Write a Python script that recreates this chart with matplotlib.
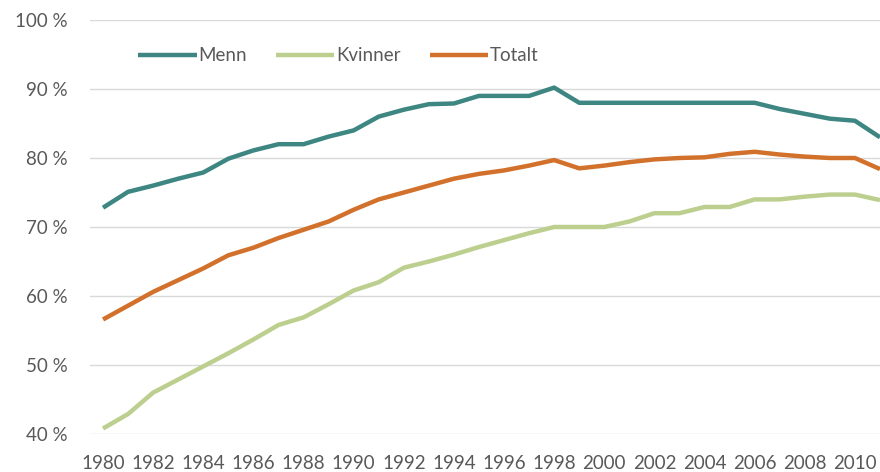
import numpy as np
import matplotlib
matplotlib.use("Agg")
import matplotlib.pyplot as plt
from matplotlib.ticker import FuncFormatter

# data
years = list(range(1980, 2012))
menn = [72.8, 75.1, 76.0, 77.0, 77.9, 79.9, 81.1, 82.0, 82.0, 83.1, 84.0, 86.0, 87.0, 87.8, 87.9, 89.0,
        89.0, 89.0, 90.2, 88.0, 88.0, 88.0, 88.0, 88.0, 88.0, 88.0, 88.0, 87.1, 86.4, 85.7, 85.4, 83.0]
kvinner = [40.8, 42.9, 46.0, 47.9, 49.8, 51.7, 53.7, 55.8, 56.9, 58.8, 60.8, 62.0, 64.1, 65.0, 66.0, 67.1,
           68.1, 69.1, 70.0, 70.0, 70.0, 70.8, 72.0, 72.0, 72.9, 72.9, 74.0, 74.0, 74.4, 74.7, 74.7, 73.9]
totalt = [56.6, 58.6, 60.6, 62.3, 64.0, 65.9, 67.0, 68.4, 69.6, 70.8, 72.5, 74.0, 75.0, 76.0, 77.0, 77.7,
          78.2, 78.9, 79.7, 78.5, 78.9, 79.4, 79.8, 80.0, 80.1, 80.6, 80.9, 80.5, 80.2, 80.0, 80.0, 78.4]

series_names = ["Menn", "Kvinner", "Totalt"]
series_colors = ["#3d8682", "#bccf8f", "#d2712b"]
y_ticks = [40, 50, 60, 70, 80, 90, 100]
x_ticks = list(range(1980, 2011, 2))

plt.rcParams['font.family'] = ['Lato', 'DejaVu Sans']

fig = plt.figure(figsize=(8.8, 4.72), dpi=100)
ax = fig.add_axes([90 / 880, 1 - 434 / 472, 1 - 90 / 880, (434 - 20) / 472])

for vals, name, col in zip([menn, kvinner, totalt], series_names, series_colors):
    ax.plot(years, vals, color=col, lw=3.2, label=name, solid_capstyle='butt')

ax.set_xlim(1979.48, 2011.0)
ax.set_ylim(40, 100)
ax.set_yticks(y_ticks)
ax.set_xticks(x_ticks)
ax.yaxis.set_major_formatter(FuncFormatter(lambda v, p: "%d %%" % v))
ax.grid(axis='y', color='#d9d9d9', lw=1)
ax.set_axisbelow(True)
for s in ax.spines.values():
    s.set_visible(False)
ax.tick_params(axis='both', length=0, labelsize=13.5, colors='#595959')
ax.tick_params(axis='y', pad=16)
ax.tick_params(axis='x', pad=15)

leg = ax.legend(loc='upper left', bbox_to_anchor=(0.04, 0.975), ncol=3, frameon=False,
                fontsize=13.5, handlelength=3.1, handletextpad=0.1, columnspacing=1.55)
for t in leg.get_texts():
    t.set_color('#595959')

fig.savefig("out.png", dpi=100)
